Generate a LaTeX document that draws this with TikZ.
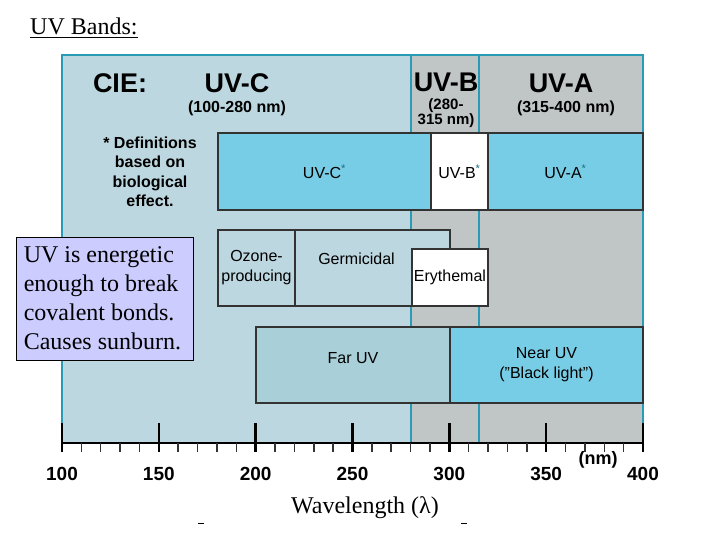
\documentclass[tikz,border=0pt]{standalone}
\usepackage{fontspec}
\setmainfont{Liberation Serif}
\setsansfont{Liberation Sans}
\usepackage{xcolor}
\usetikzlibrary{positioning}
\definecolor{uvcfill}{HTML}{BDD7E0}
\definecolor{uvabfill}{HTML}{C0C5C6}
\definecolor{skyfill}{HTML}{78CDE6}
\definecolor{farfill}{HTML}{A9CFD8}
\definecolor{frameteal}{HTML}{2A9BB5}
\definecolor{startteal}{HTML}{1F6E80}
\definecolor{notefill}{HTML}{CCCCFF}
\tikzstyle{bandbox} = [rectangle, draw=black!80, line width=1.2pt, inner sep=0pt, align=center, font=\sffamily\fontsize{16}{20}\selectfont]
\tikzstyle{bandtext} = [inner sep=0pt, align=center, font=\sffamily\fontsize{16}{20}\selectfont]
\tikzstyle{bandhead} = [inner sep=0pt, font=\sffamily\bfseries\fontsize{27}{28}\selectfont]
\tikzstyle{bandrange} = [inner sep=0pt, align=center, font=\sffamily\bfseries\fontsize{16}{15}\selectfont]
\tikzstyle{ticklabel} = [inner sep=0pt, font=\sffamily\bfseries\fontsize{19}{19}\selectfont]
\tikzstyle{divider} = [draw=frameteal, line width=1.5pt]
\newcommand{\biostar}{\textsuperscript{\textcolor{startteal}{*}}}

\begin{document}
\begin{tikzpicture}[x=1pt, y=-1pt]
                \useasboundingbox (0,0) rectangle (720,540);

% ---------------------------------------------
% Band background
% ---------------------------------------------
                \fill [uvcfill] (62,55) rectangle (411,443);
                \fill [uvabfill] (411,55) rectangle (643,443);
                \draw [divider] (411,55) -- (411,443);
                \draw [divider] (479,55) -- (479,443);
                \draw [draw=frameteal, line width=2pt] (62,443) -- (62,55) -- (643,55) -- (643,443);

                \node (title) [anchor=base west, inner sep=0pt, font=\fontsize{24}{24}\selectfont] at (30,35) {\underline{UV Bands:}};

% ---------------------------------------------
% CIE headings
% ---------------------------------------------
                \node (cie) [bandhead] at (120,83) {CIE:};
                \node (uvc) [bandhead] at (237,83) {UV-C};
                \node (uvcrange) [bandrange] at (237,108) {(100-280 nm)};
                \node (uvb) [bandhead] at (446,82) {UV-B};
                \node (uvbrange) [bandrange, font=\sffamily\bfseries\fontsize{15}{15}\selectfont] at (446,113) {(280-\\315 nm)};
                \node (uva) [bandhead] at (561,83) {UV-A};
                \node (uvarange) [bandrange] at (566,108) {(315-400 nm)};

% ---------------------------------------------
% Biological bands
% ---------------------------------------------
                \node (defs) [bandtext, font=\sffamily\bfseries\fontsize{16}{19.5}\selectfont] at (150,172) {* Definitions\\based on\\biological\\effect.};
                \node (uvcbio) [bandbox, fill=skyfill, minimum width=213pt, minimum height=77pt] at (324.5,171.5) {UV-C\biostar};
                \node (uvbbio) [bandbox, fill=white, minimum width=57pt, minimum height=77pt] at (459.5,171.5) {UV-B\biostar};
                \node (uvabio) [bandbox, fill=skyfill, minimum width=155pt, minimum height=77pt] at (565.5,171.5) {UV-A\biostar};

                \node (ozone) [bandbox, fill=uvcfill, minimum width=77pt, minimum height=76pt] at (256.5,268) {Ozone-\\producing};
                \node (germ) [bandbox, fill=uvcfill, minimum width=155pt, minimum height=76pt] at (372.5,268) {};
                \node (germtext) [bandtext] at ([xshift=-16pt, yshift=-29pt]germ.north) {Germicidal};
                \node (ery) [bandbox, fill=white, minimum width=76pt, minimum height=57pt] at (450,277.5) {Erythemal};

% ---------------------------------------------
% Far and near UV
% ---------------------------------------------
                \node (far) [bandbox, fill=farfill, minimum width=194pt, minimum height=76pt] at (353,365) {};
                \node (fartext) [bandtext] at ([yshift=-32pt]far.north) {Far UV};
                \node (near) [bandbox, fill=skyfill, minimum width=193pt, minimum height=76pt] at (546.5,365) {Near UV\\("Black light")};

                \node (note) [draw=black, line width=0.8pt, fill=notefill, minimum width=177pt, minimum height=123pt, inner sep=0pt] at (104.5,298.5) {};
                \node (notetext) [anchor=west, inner sep=0pt, align=left, font=\fontsize{24}{29}\selectfont] at ([xshift=8pt]note.west) {UV is energetic\\enough to break\\covalent bonds.\\Causes sunburn.};

% ---------------------------------------------
% Wavelength axis
% ---------------------------------------------
                \coordinate (axisleft) at (62,443);
                \coordinate (axisright) at (643,443);
                \draw [line width=2.5pt] (axisleft) -- (axisright);
                \foreach \w in {110,120,...,390}
                    \draw [line width=1.5pt, black!80] ({62+(\w-100)*1.9367},443) -- ({62+(\w-100)*1.9367},452);
                \foreach \w in {100,150,...,400}
                {
                    \draw [line width=2.5pt] ({62+(\w-100)*1.9367},423) -- ({62+(\w-100)*1.9367},452);
                    \node (tick\w) [ticklabel] at ({62+(\w-100)*1.9367},474) {\w};
                }
                \node (unit) [ticklabel, font=\sffamily\bfseries\fontsize{18}{18}\selectfont] at (598,460) {(nm)};
                \node (axistitle) [inner sep=0pt, font=\fontsize{24}{24}\selectfont] at (365,508) {Wavelength (λ)};
                \draw [line width=0.6pt] (198,523) -- (204,523);
                \draw [line width=0.6pt] (461,523) -- (467,523);
            \end{tikzpicture}
\end{document}
